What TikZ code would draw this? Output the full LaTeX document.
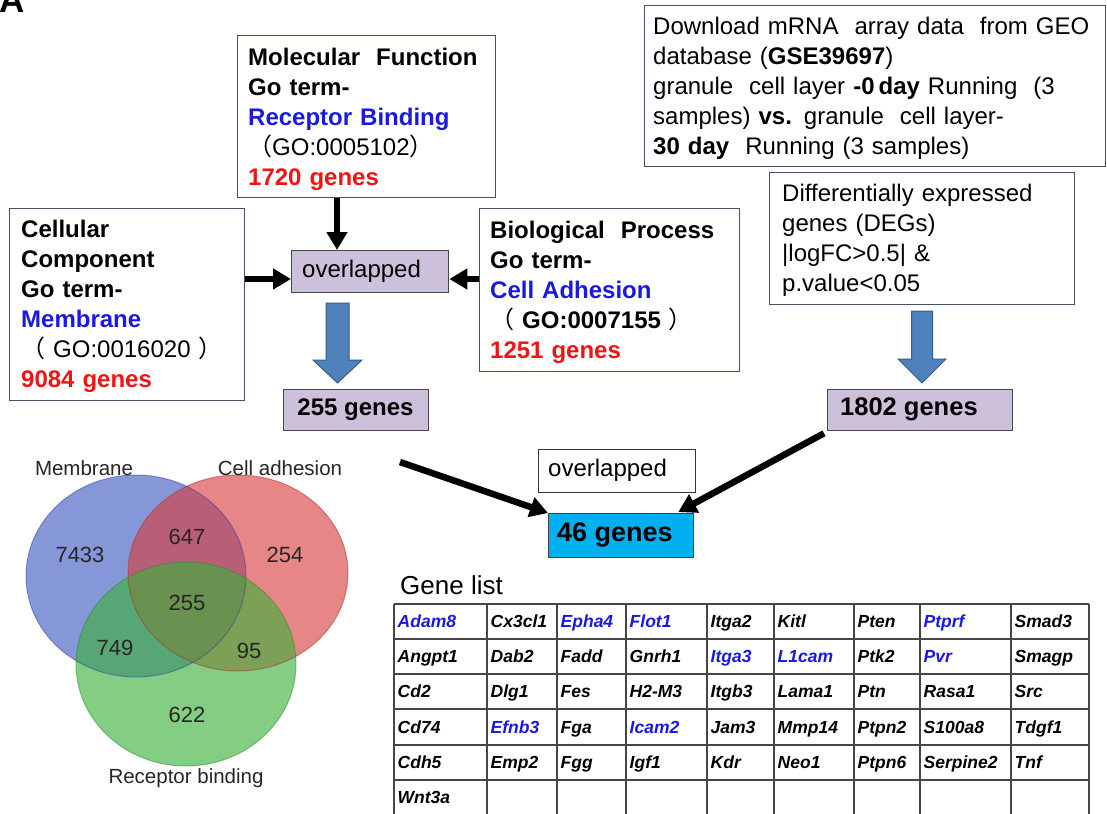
\documentclass[tikz,border=0pt]{standalone}
\usepackage{fontspec}
\setmainfont{Liberation Sans}
\newfontfamily\cjk{Noto Sans CJK SC}
\usetikzlibrary{arrows.meta,calc}
\definecolor{gblue}{RGB}{25,25,225}
\definecolor{gred}{RGB}{240,20,20}
\definecolor{lav}{RGB}{204,192,218}
\definecolor{lavdraw}{RGB}{70,70,80}
\definecolor{boxdraw}{RGB}{70,80,100}
\definecolor{barrow}{RGB}{79,129,189}
\definecolor{barrowdraw}{RGB}{56,93,138}
\definecolor{cyanbox}{RGB}{0,176,240}
\definecolor{vblue}{RGB}{60,88,195}
\definecolor{vred}{RGB}{217,60,60}
\definecolor{vgreen}{RGB}{57,177,57}
\definecolor{gridc}{RGB}{70,70,70}
\newcommand{\fsz}[2]{\fontsize{#1}{#2}\selectfont}
\newcommand{\fwl}{{\cjk （}}
\newcommand{\fwr}{{\cjk ）}}
\begin{document}
\begin{tikzpicture}[x=1pt,y=-1pt,
  box/.style={draw=boxdraw, line width=1.3pt, anchor=north west, inner sep=0pt},
  lavbox/.style={draw=lavdraw, fill=lav, line width=1.3pt, anchor=north west, inner sep=0pt},
  boxtext/.style={anchor=base west, inner sep=0pt, text width=460pt, align=left, font=\fsz{24}{30}},
  blk/.style={line width=6pt, -{Triangle[length=18pt,width=20pt]}},
  blockarrow/.style={fill=barrow, draw=barrowdraw, line width=1pt},
  venn/.style={font=\fsz{22}{26}, text=black!85, inner sep=0pt},
  vlabel/.style={font=\fsz{20.5}{24}, text=black!85, inner sep=0pt},
  gene/.style={anchor=base west, inner sep=0pt, font=\fsz{17.5}{20}\bfseries\itshape},
  gridline/.style={draw=gridc, line width=1.3pt}
]
\useasboundingbox (0,0) rectangle (1107,813);
\fill[white] (0,0) rectangle (1107,813);

% panel letter
\node[anchor=base west, inner sep=0pt, font=\fsz{35}{40}\bfseries] (panelA) at (-1,13) {A};

% boxes
\node[box, minimum width=258pt, minimum height=162pt] (mf) at (237,35) {};
\node[boxtext] (mft) at (248,65.5) {{\bfseries Molecular\ \ Function}\\ {\bfseries Go term-}\\ {\bfseries\color{gblue}Receptor Binding}\\ \fwl GO:0005102\fwr\\ {\bfseries\color{gred}1720 genes}};

\node[box, minimum width=235pt, minimum height=192pt] (cc) at (9,208) {};
\node[boxtext] (cct) at (21,237.6) {{\bfseries Cellular}\\ {\bfseries Component}\\ {\bfseries Go term-}\\ {\bfseries\color{gblue}Membrane}\\ \fwl\ GO:0016020 \fwr\\ {\bfseries\color{gred}9084 genes}};

\node[box, minimum width=260pt, minimum height=163pt] (bp) at (479,208) {};
\node[boxtext] (bpt) at (490,238.6) {{\bfseries Biological\ \ Process}\\ {\bfseries Go term-}\\ {\bfseries\color{gblue}Cell Adhesion}\\ \fwl\ \textbf{GO:0007155} \fwr\\ {\bfseries\color{gred}1251 genes}};

\node[box, minimum width=461pt, minimum height=161pt] (dl) at (644,5) {};
\node[boxtext] (dlt) at (653,34.6) {Download mRNA\ \ array data\ \ from GEO\\ database (\textbf{GSE39697})\\ granule\ \ cell layer \textbf{-0\,day} Running\ \ (3\\ samples) \textbf{vs.} granule\ \ cell layer-\\ \textbf{30 day}\ \ Running (3 samples)};

\node[box, minimum width=305pt, minimum height=132pt] (deg) at (769,172) {};
\node[boxtext] (degt) at (782,201.6) {Differentially expressed\\ genes (DEGs)\\ |logFC>0.5| \&\\ p.value<0.05};

% small boxes
\node[lavbox, minimum width=157pt, minimum height=42pt] (ov1) at (291,250) {};
\node[anchor=west, inner sep=0pt, font=\fsz{24}{28}] (ov1t) at (302,271) {overlapped};
\node[lavbox, minimum width=145pt, minimum height=41pt] (g255) at (283,389) {};
\node[inner sep=0pt, font=\fsz{24}{28}\bfseries] (g255t) at (355.5,409.5) {255 genes};
\node[lavbox, minimum width=185pt, minimum height=41pt] (g1802) at (827,389) {};
\node[anchor=west, inner sep=0pt, font=\fsz{25.5}{28}\bfseries] (g1802t) at (840,409.5) {1802 genes};
\node[draw=black!80, line width=1.3pt, anchor=north west, inner sep=0pt, minimum width=157pt, minimum height=43pt] (ov2) at (538,449) {};
\node[anchor=west, inner sep=0pt, font=\fsz{24}{28}] (ov2t) at (548,470.5) {overlapped};
\node[draw=black!75, fill=cyanbox, line width=1.3pt, anchor=north west, inner sep=0pt, minimum width=145pt, minimum height=44pt] (g46) at (548,513) {};
\node[anchor=west, inner sep=0pt, font=\fsz{27}{30}\bfseries] (g46t) at (557,535) {46 genes};

% connectors
\coordinate (xa) at (337,0);
\coordinate (ya) at (0,279);
\draw[blk] (mf.south -| xa) -- (ov1.north -| xa);
\draw[blk] (cc.east |- ya) -- (ov1.west |- ya);
\draw[blk] (bp.west |- ya) -- (ov1.east |- ya);
\coordinate (s255) at (400,462);
\draw[blk, line width=6.5pt] (s255) -- (g46.north west);
\draw[blk, line width=6.5pt] ($(g1802.south west)+(-3,2)$) -- ($(g46.north east)+(-16,-1)$);

% block arrows
\draw[blockarrow] (326,303) -- (349,303) -- (349,360) -- (362,360) -- (337.5,383) -- (313,360) -- (326,360) -- cycle;
\draw[blockarrow] (911.5,311) -- (932.5,311) -- (932.5,359) -- (946,359) -- (922,383) -- (898,359) -- (911.5,359) -- cycle;

% Venn
\fill[vblue, fill opacity=0.62] (136,576) ellipse [x radius=110pt, y radius=101pt];
\fill[vred, fill opacity=0.62] (238,573) ellipse [x radius=110pt, y radius=98pt];
\fill[vgreen, fill opacity=0.62] (186,664) ellipse [x radius=110pt, y radius=102pt];
\draw[vblue!80!black, draw opacity=0.5, line width=1pt] (136,576) ellipse [x radius=110pt, y radius=101pt];
\draw[vred!80!black, draw opacity=0.5, line width=1pt] (238,573) ellipse [x radius=110pt, y radius=98pt];
\draw[vgreen!80!black, draw opacity=0.5, line width=1pt] (186,664) ellipse [x radius=110pt, y radius=102pt];
\node[vlabel] (lmem) at (84,468) {Membrane};
\node[vlabel] (ladh) at (280,468) {Cell adhesion};
\node[vlabel] (lrec) at (186,778) {Receptor binding};
\node[venn] (n7433) at (80,555) {7433};
\node[venn] (n647) at (187,537) {647};
\node[venn] (n254) at (285,555) {254};
\node[venn] (n255) at (187,603) {255};
\node[venn] (n749) at (115,648) {749};
\node[venn] (n95) at (249,651) {95};
\node[venn] (n622) at (187,715) {622};

% gene list
\node[anchor=west, inner sep=0pt, font=\fsz{26}{30}] (glist) at (400,585) {Gene list};
\foreach \x in {394,487,557,626,707,774,854,920,1011,1089} \draw[gridline] (\x,604) -- (\x,816);
\foreach \y in {604,639,674,709,745,780} \draw[gridline] (394,\y) -- (1089,\y);
\foreach \cx/\gn/\gc [count=\k] in {394/Adam8/gblue,487/Cx3cl1/black,557/Epha4/gblue,626/Flot1/gblue,707/Itga2/black,774/Kitl/black,854/Pten/black,920/Ptprf/gblue,1011/Smad3/black}
  \node[gene, text=\gc] (ra\k) at (\cx+3.5,627.8) {\gn};
\foreach \cx/\gn/\gc [count=\k] in {394/Angpt1/black,487/Dab2/black,557/Fadd/black,626/Gnrh1/black,707/Itga3/gblue,774/L1cam/gblue,854/Ptk2/black,920/Pvr/gblue,1011/Smagp/black}
  \node[gene, text=\gc] (rb\k) at (\cx+3.5,662.8) {\gn};
\foreach \cx/\gn/\gc [count=\k] in {394/Cd2/black,487/Dlg1/black,557/Fes/black,626/H2-M3/black,707/Itgb3/black,774/Lama1/black,854/Ptn/black,920/Rasa1/black,1011/Src/black}
  \node[gene, text=\gc] (rc\k) at (\cx+3.5,697.8) {\gn};
\foreach \cx/\gn/\gc [count=\k] in {394/Cd74/black,487/Efnb3/gblue,557/Fga/black,626/Icam2/gblue,707/Jam3/black,774/Mmp14/black,854/Ptpn2/black,920/S100a8/black,1011/Tdgf1/black}
  \node[gene, text=\gc] (rd\k) at (\cx+3.5,733.3) {\gn};
\foreach \cx/\gn/\gc [count=\k] in {394/Cdh5/black,487/Emp2/black,557/Fgg/black,626/Igf1/black,707/Kdr/black,774/Neo1/black,854/Ptpn6/black,920/Serpine2/black,1011/Tnf/black}
  \node[gene, text=\gc] (re\k) at (\cx+3.5,768.8) {\gn};
\node[gene] (rf1) at (397.5,803.8) {Wnt3a};
\end{tikzpicture}
\end{document}
